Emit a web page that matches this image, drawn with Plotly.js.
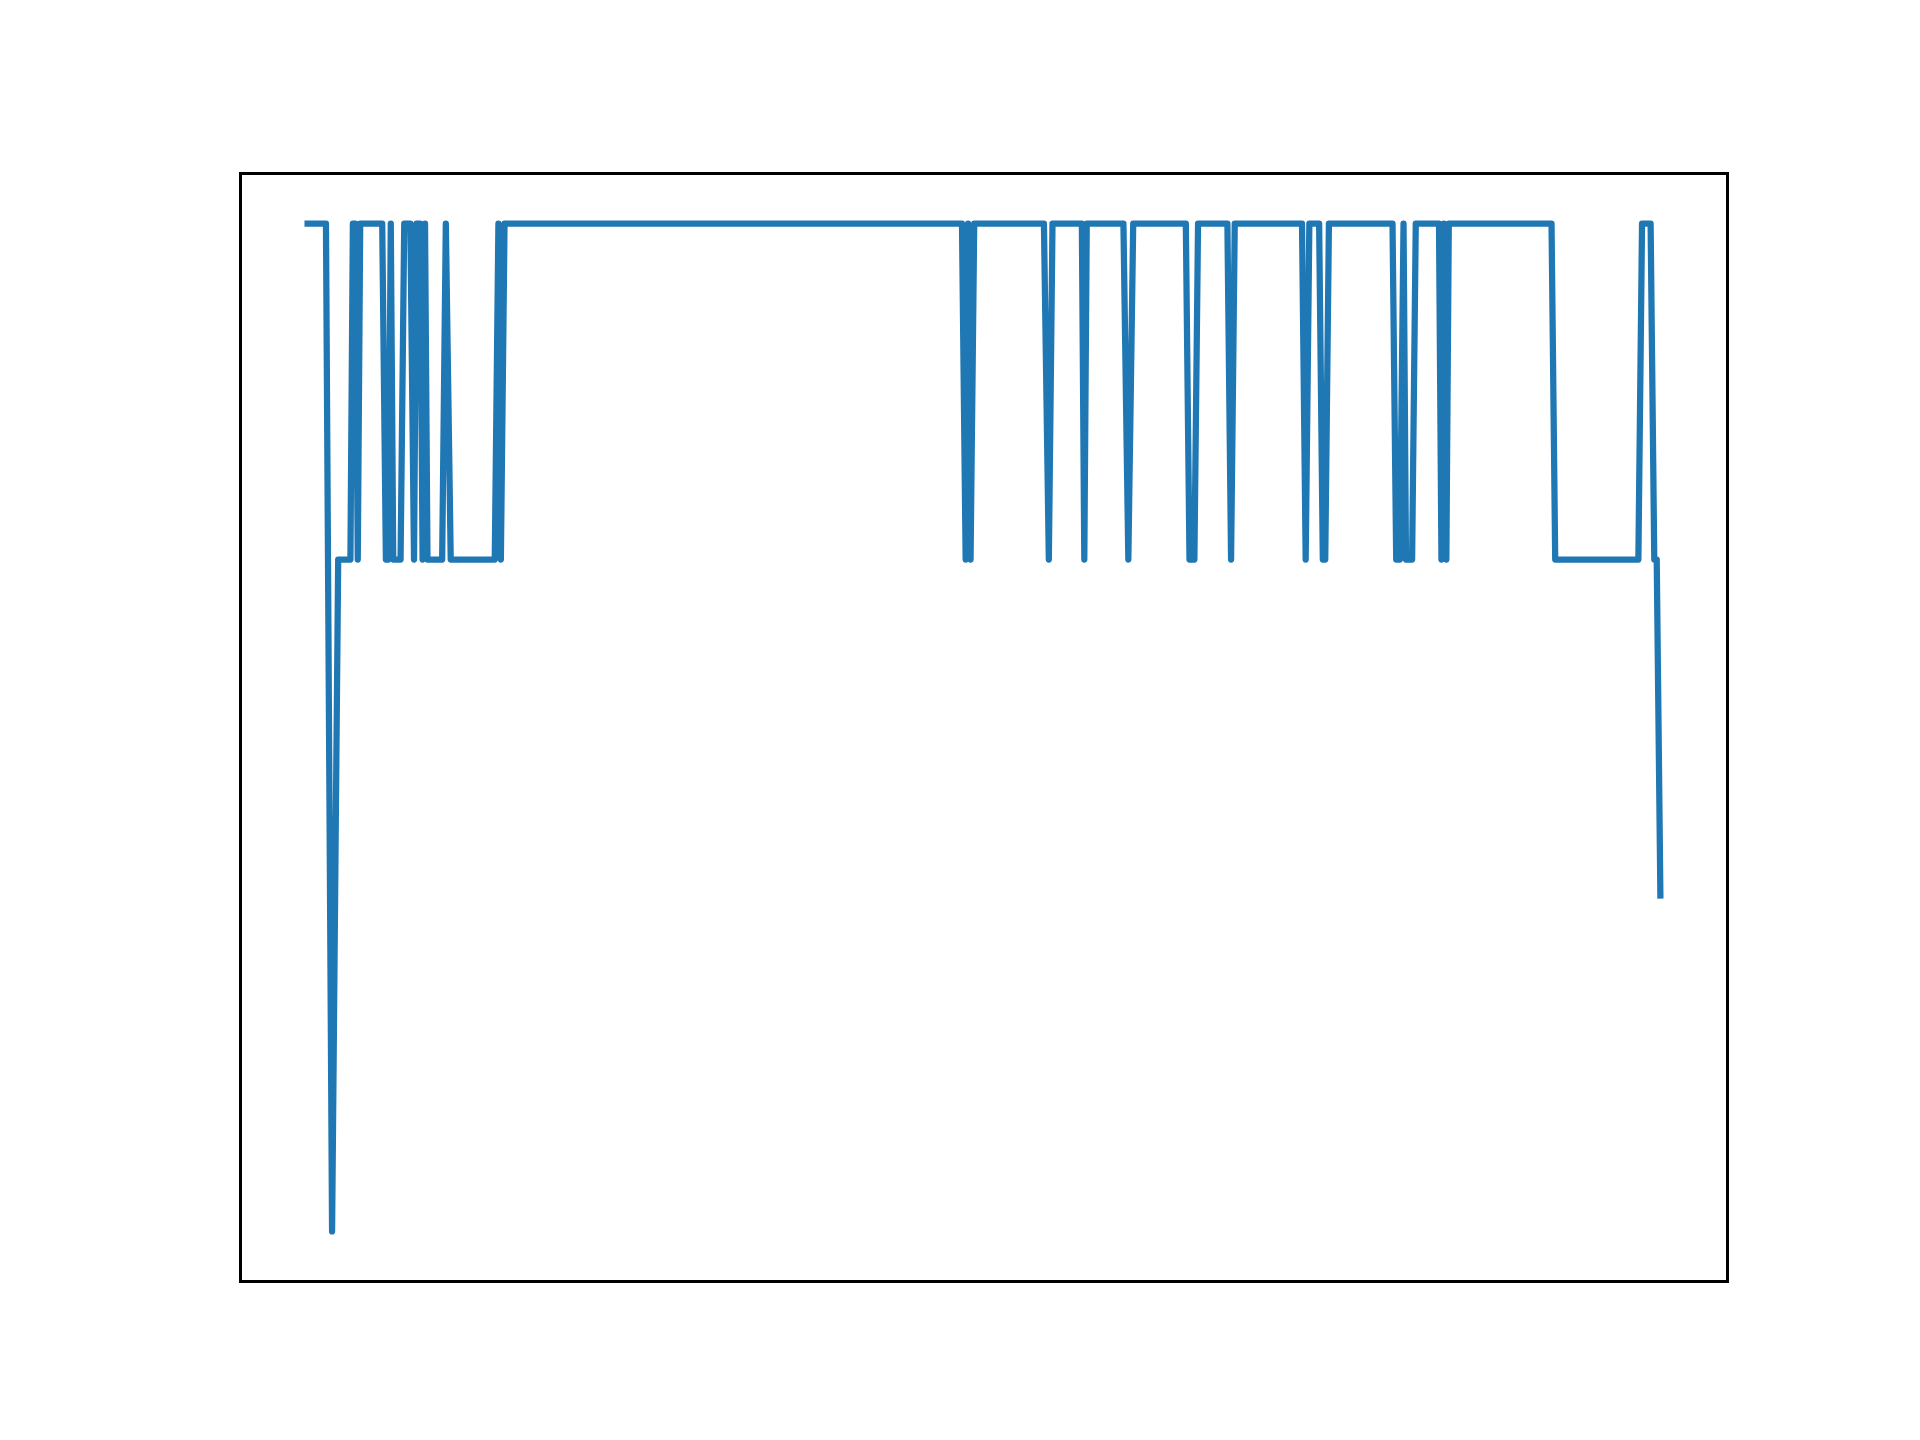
<!DOCTYPE html>
<html>
<head>
<meta charset="utf-8">
<script src="https://cdn.plot.ly/plotly-3.0.1.min.js"></script>
<style>
  html, body { margin: 0; padding: 0; background: #ffffff; }
  #chart { width: 1920px; height: 1440px; }
  path.js-line { stroke-linejoin: round !important; stroke-linecap: square !important; }
</style>
</head>
<body>
<div id="chart"></div>
<script>
// time positions of the state changes (arbitrary units, no ticks shown)
const timePoints = [0,15,20,25,35,37,39,41,43,61,64,66,68,70,76,79,84,87,89,92,94,96,98,101,110,113,117,153,156,158,161,535,538,540,542,545,602,606,609,633,635,637,667,671,675,718,721,725,728,752,755,758,813,816,819,827,830,832,835,887,890,893,896,898,903,906,925,927,929,931,933,1017,1020,1088,1091,1098,1101,1103,1106];
// state level at each time point
const stateValues = [3,3,0,2,2,3,3,2,3,3,2,2,3,2,2,3,3,2,3,3,2,3,2,2,2,3,2,2,3,2,3,3,2,3,2,3,3,2,3,3,2,3,3,2,3,3,2,2,3,3,2,3,3,2,3,3,2,2,3,3,2,2,3,2,2,3,3,2,3,2,3,3,2,2,3,3,2,2,1];

const xmin = Math.min(...timePoints), xmax = Math.max(...timePoints);
const ymin = Math.min(...stateValues), ymax = Math.max(...stateValues);
const xpad = (xmax - xmin) * 0.0485, ypad = (ymax - ymin) * 0.0482;

const trace = {
  x: timePoints,
  y: stateValues,
  type: 'scatter',
  mode: 'lines',
  line: { color: '#1f77b4', width: 6.25 },
  hoverinfo: 'skip'
};

const axisCommon = {
  showticklabels: false,
  ticks: '',
  showgrid: false,
  zeroline: false,
  showline: true,
  mirror: true,
  linecolor: '#000000',
  linewidth: 3.3
};

const layout = {
  width: 1920,
  height: 1440,
  margin: { l: 242, r: 194, t: 175, b: 160, pad: 0 },
  paper_bgcolor: '#ffffff',
  plot_bgcolor: '#ffffff',
  showlegend: false,
  xaxis: Object.assign({ range: [xmin - xpad, xmax + xpad] }, axisCommon),
  yaxis: Object.assign({ range: [ymin - ypad, ymax + ypad] }, axisCommon)
};

Plotly.newPlot('chart', [trace], layout, { staticPlot: true, displayModeBar: false });
</script>
</body>
</html>
